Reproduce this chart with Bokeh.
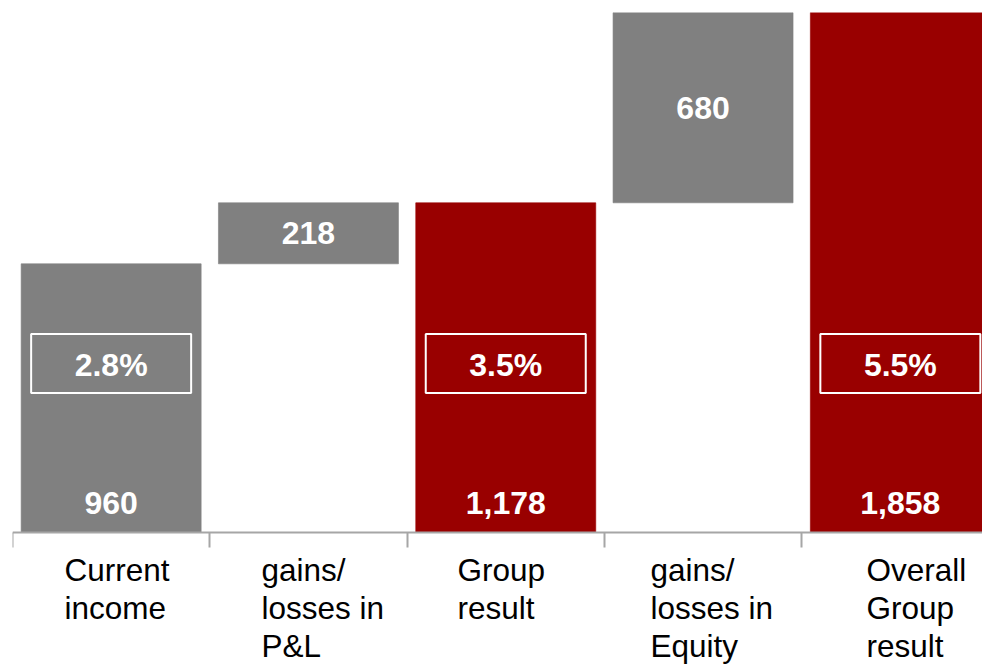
from bokeh.plotting import figure
from bokeh.models import Range1d, FixedTicker, ColumnDataSource
from bokeh.core.properties import value
from bokeh.embed import file_html
from bokeh.resources import INLINE

# ---- data ----
categories = ["Current\nincome", "gains/\nlosses in\nP&L", "Group\nresult",
              "gains/\nlosses in\nEquity", "Overall\nGroup\nresult"]
bar_bottom = [0, 960, 0, 1178, 0]
bar_top = [960, 1178, 1178, 1858, 1858]
bar_value_labels = ["960", "218", "1,178", "680", "1,858"]
bar_colors = ["#808080", "#808080", "#990000", "#808080", "#990000"]
pct_labels = ["2.8%", "3.5%", "5.5%"]
pct_index = [0, 2, 4]

GRAY_AXIS = "#a6a6a6"
FONT = "Liberation Sans"

PX_PER_UNIT = 520 / 1858.0      # vertical scale of the reference
FRAME_H = 666 - 12
y_low = -(FRAME_H - 520) / PX_PER_UNIT

p = figure(width=982, height=666, output_backend="svg", toolbar_location=None,
           x_range=Range1d(0, 970 / 197.3), y_range=Range1d(y_low, 1858),
           min_border_left=12, min_border_right=0, min_border_top=12,
           min_border_bottom=0, y_axis_location=None)
p.grid.visible = False
p.outline_line_color = None
p.background_fill_color = "white"
p.border_fill_color = "white"

n = len(categories)
centers = [i + 0.5 for i in range(n)]
src = ColumnDataSource(dict(x=centers, bottom=bar_bottom, top=bar_top,
                            color=bar_colors, lab=bar_value_labels))
p.vbar(x="x", bottom="bottom", top="top", width=180 / 197.3, fill_color="color",
       line_color="color", line_alpha=0.6, source=src)

# value labels: increments centered in their bar, totals at the bar foot
inc_x, inc_y, inc_t = [], [], []
tot_x, tot_t = [], []
for i in range(n):
    if bar_bottom[i] > 0:
        inc_x.append(centers[i]); inc_y.append((bar_bottom[i] + bar_top[i]) / 2); inc_t.append(bar_value_labels[i])
    else:
        tot_x.append(centers[i]); tot_t.append(bar_value_labels[i])

p.text(x=inc_x, y=inc_y, text=inc_t, text_color="white", text_font=value(FONT),
       text_font_style="bold", text_font_size="32px", text_align="center",
       text_baseline="middle")
p.text(x=tot_x, y=[0] * len(tot_x), text=tot_t, text_color="white", text_font=value(FONT),
       text_font_style="bold", text_font_size="32px", text_align="center",
       text_baseline="middle", y_offset=-30)

# percentage boxes
pct_x = [centers[i] for i in pct_index]
pct_y = [604] * len(pct_x)
p.rect(x=pct_x, y=pct_y, width=160 / 197.3, height=59, height_units="screen",
       fill_color=None, line_color="white", line_width=2)
p.text(x=pct_x, y=pct_y, text=pct_labels, text_color="white", text_font=value(FONT),
       text_font_style="bold", text_font_size="32px", text_align="center",
       text_baseline="middle", y_offset=2)

# category labels, left aligned lines
label_pos = [0.2636, 1.262, 2.255, 3.234, 4.328]
p.text(x=label_pos, y=[0] * n, text=categories, text_color="black",
       text_font=value(FONT), text_font_size="31.5px", text_align="left",
       text_baseline="top", text_line_height=1.06, y_offset=19)

# x axis at y=0 with boundary ticks
ax = p.xaxis[0]
ax.fixed_location = 0
ax.ticker = FixedTicker(ticks=list(range(n + 1)), minor_ticks=[])
ax.major_tick_out = 15
ax.major_tick_in = 0
ax.major_tick_line_color = GRAY_AXIS
ax.major_tick_line_width = 2
ax.axis_line_color = GRAY_AXIS
ax.axis_line_width = 2
ax.major_label_text_color = None
ax.major_label_standoff = 0

open("out.html", "w").write(file_html(p, INLINE))
